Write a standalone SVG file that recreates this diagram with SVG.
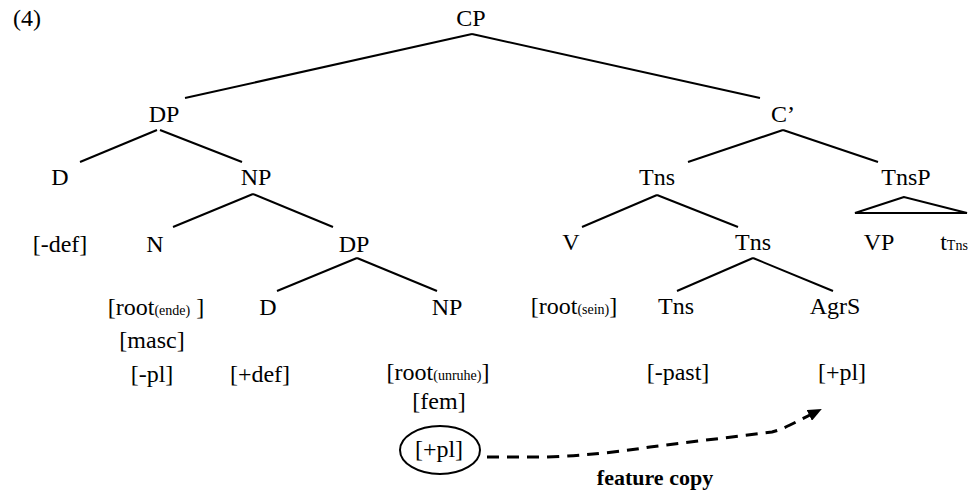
<svg xmlns="http://www.w3.org/2000/svg" width="974" height="493" viewBox="0 0 974 493">
<style>
text{font-family:"Liberation Serif","Times New Roman",serif;font-size:24px;fill:#000;text-anchor:middle}
.sub{font-size:14px}
.bold{font-weight:bold;font-size:22px}
.ln line,.ln path{stroke:#000;stroke-width:2;fill:none}
.ln path.dash{stroke:#000;stroke-width:3;fill:none;stroke-dasharray:12 8}
</style>
<defs>
<marker id="ah" markerWidth="14" markerHeight="12" refX="12" refY="6" orient="auto" markerUnits="userSpaceOnUse" viewBox="0 0 14 12">
<path d="M0,0 L14,6 L0,12 z" fill="#000"/>
</marker>
</defs>
<text x="27" y="26">(4)</text>
<g id="connectors" class="ln">
<line x1="472" y1="34" x2="185" y2="98"/>
<line x1="472" y1="34" x2="760" y2="98"/>
<line x1="157" y1="130" x2="80" y2="162"/>
<line x1="160" y1="130" x2="242" y2="162"/>
<line x1="253" y1="194" x2="173" y2="227"/>
<line x1="253" y1="194" x2="333" y2="227"/>
<line x1="357" y1="258" x2="277" y2="291"/>
<line x1="357" y1="258" x2="437" y2="291"/>
<line x1="783" y1="130" x2="688" y2="162"/>
<line x1="783" y1="130" x2="878" y2="162"/>
<line x1="657" y1="195" x2="582" y2="227"/>
<line x1="657" y1="195" x2="738" y2="227"/>
<line x1="753" y1="258" x2="677" y2="291"/>
<line x1="753" y1="258" x2="833" y2="291"/>
<path d="M904,197 L855,213 L967,213 Z"/>
<path class="dash" d="M487,457 L545,457 Q600,455 650,447 L772,432 Q780,430 790,425 L820,410" marker-end="url(#ah)"/>
</g>
<g id="CP"><text x="471" y="26">CP</text></g>
<g id="DP1"><text x="164" y="122">DP</text></g>
<g id="Cbar"><text x="783" y="122">C’</text></g>
<g id="D1"><text x="60" y="185">D</text></g>
<g id="NP1"><text x="256" y="185">NP</text></g>
<g id="Tns1"><text x="657" y="185">Tns</text></g>
<g id="TnsP"><text x="906" y="185">TnsP</text></g>
<g id="def1"><text x="60" y="252">[-def]</text></g>
<g id="N"><text x="155" y="252">N</text></g>
<g id="DP2"><text x="354" y="252">DP</text></g>
<g id="V"><text x="571" y="250">V</text></g>
<g id="Tns2"><text x="753" y="250">Tns</text></g>
<g id="VP"><text x="879" y="250">VP</text></g>
<g id="tTns"><text x="954" y="250">t<tspan class="sub">Tns</tspan></text></g>
<g id="root-ende"><text x="156" y="315">[root<tspan class="sub">(ende)</tspan> ]</text></g>
<g id="D2"><text x="268" y="315">D</text></g>
<g id="NP2"><text x="447" y="315">NP</text></g>
<g id="root-sein"><text x="574" y="314">[root<tspan class="sub">(sein)</tspan>]</text></g>
<g id="Tns3"><text x="676" y="314">Tns</text></g>
<g id="AgrS"><text x="835" y="314">AgrS</text></g>
<g id="masc"><text x="152" y="348">[masc]</text></g>
<g id="pl1"><text x="152" y="382">[-pl]</text></g>
<g id="def2"><text x="260" y="382">[+def]</text></g>
<g id="root-unruhe"><text x="438" y="380">[root<tspan class="sub">(unruhe)</tspan>]</text></g>
<g id="fem"><text x="439" y="409">[fem]</text></g>
<g id="pl-circled"><ellipse cx="440" cy="450" rx="40" ry="24" fill="none" stroke="#000" stroke-width="2"/><text x="439" y="457">[+pl]</text></g>
<g id="past"><text x="678" y="380">[-past]</text></g>
<g id="pl2"><text x="842" y="380">[+pl]</text></g>
<g id="label"><text class="bold" x="655" y="485">feature copy</text></g>
</svg>
